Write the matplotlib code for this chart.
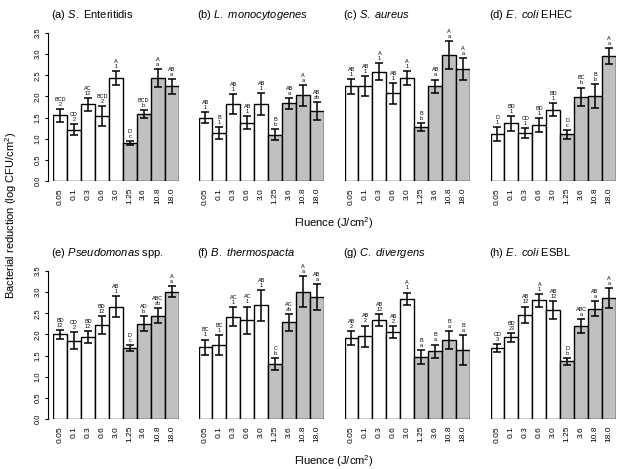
import matplotlib
matplotlib.use("Agg")
import matplotlib.pyplot as plt
import numpy as np

plt.rcParams['font.family'] = ['Liberation Sans', 'DejaVu Sans']
plt.rcParams['mathtext.fontset'] = 'custom'
plt.rcParams['mathtext.rm'] = 'Liberation Sans'
plt.rcParams['mathtext.it'] = 'Liberation Sans:italic'

fluence = ["0.05", "0.1", "0.3", "0.6", "3.0", "1.25", "3.6", "10.8", "18.0"]
n_white = 5

titles = [
    r"(a) $\mathit{S.}$ Enteritidis",
    r"(b) $\mathit{L.\ monocytogenes}$",
    r"(c) $\mathit{S.\ aureus}$",
    r"(d) $\mathit{E.\ coli}$ EHEC",
    r"(e) $\mathit{Pseudomonas}$ spp.",
    r"(f) $\mathit{B.\ thermospacta}$",
    r"(g) $\mathit{C.\ divergens}$",
    r"(h) $\mathit{E.\ coli}$ ESBL",
]

# mean log reduction and error per panel
mean_a = [1.55, 1.21, 1.81, 1.54, 2.44, 0.90, 1.58, 2.44, 2.24]
err_a = [0.16, 0.13, 0.15, 0.23, 0.17, 0.05, 0.10, 0.21, 0.18]
mean_b = [1.50, 1.13, 1.82, 1.38, 1.82, 1.09, 1.84, 2.03, 1.65]
err_b = [0.13, 0.14, 0.23, 0.15, 0.27, 0.13, 0.13, 0.25, 0.21]
mean_c = [2.24, 2.25, 2.58, 2.07, 2.43, 1.27, 2.24, 2.99, 2.65]
err_c = [0.18, 0.23, 0.20, 0.25, 0.16, 0.09, 0.16, 0.33, 0.25]
mean_d = [1.11, 1.36, 1.13, 1.32, 1.69, 1.10, 1.99, 2.01, 2.96]
err_d = [0.17, 0.18, 0.12, 0.17, 0.16, 0.10, 0.22, 0.29, 0.19]
mean_e = [2.00, 1.85, 1.94, 2.22, 2.66, 1.67, 2.25, 2.44, 3.01]
err_e = [0.11, 0.20, 0.15, 0.22, 0.24, 0.07, 0.18, 0.18, 0.13]
mean_f = [1.70, 1.75, 2.42, 2.34, 2.69, 1.31, 2.29, 3.01, 2.89]
err_f = [0.18, 0.24, 0.22, 0.32, 0.37, 0.14, 0.20, 0.37, 0.31]
mean_g = [1.92, 1.96, 2.34, 2.06, 2.84, 1.47, 1.60, 1.87, 1.63]
err_g = [0.16, 0.25, 0.15, 0.14, 0.15, 0.17, 0.16, 0.21, 0.35]
mean_h = [1.68, 1.93, 2.46, 2.81, 2.58, 1.36, 2.20, 2.61, 2.86]
err_h = [0.10, 0.11, 0.20, 0.15, 0.22, 0.09, 0.17, 0.17, 0.24]

let_a = ["BCD\n2", "CD\n2", "AC\n12", "BCD\n2", "A\n1", "D\nc", "BCD\nb", "A\na", "AB\na"]
let_b = ["AB\n1", "B\n1", "AB\n1", "AB\n1", "AB\n1", "B\nb", "AB\na", "A\na", "AB\nab"]
let_c = ["AB\n1", "AB\n1", "A\n1", "AB\n1", "A\n1", "B\nb", "AB\na", "A\na", "A\na"]
let_d = ["D\n1", "BD\n1", "CD\n1", "BD\n1", "BD\n1", "D\nc", "BC\nb", "B\nb", "A\na"]
let_e = ["BD\n12", "CD\n2", "BD\n12", "BD\n12", "AB\n1", "D\nc", "AD\nb", "ABC\nab", "A\na"]
let_f = ["BC\n1", "BC\n1", "AC\n1", "AC\n1", "AB\n1", "C\nb", "AC\nab", "A\na", "AB\na"]
let_g = ["AB\n2", "AB\n2", "AB\n12", "AB\n2", "A\n1", "B\na", "B\na", "B\na", "B\na"]
let_h = ["CD\n3", "BD\n23", "AB\n12", "A\n1", "AB\n12", "D\nb", "ABC\na", "AB\na", "A\na"]

means = [mean_a, mean_b, mean_c, mean_d, mean_e, mean_f, mean_g, mean_h]
errs = [err_a, err_b, err_c, err_d, err_e, err_f, err_g, err_h]
letters = [let_a, let_b, let_c, let_d, let_e, let_f, let_g, let_h]

W, H = 617, 469
fig = plt.figure(figsize=(W / 100, H / 100), dpi=100)

lefts = [53, 198.5, 344.5, 490.5]
width = 125.5
zero_y = [181, 419]
ax_h = 148

x = np.arange(9) + 0.5
colors = ["white"] * n_white + ["#c0c0c0"] * (9 - n_white)

for i in range(8):
    row, col = divmod(i, 4)
    ax = fig.add_axes([lefts[col] / W, 1 - zero_y[row] / H, width / W, ax_h / H])
    ax.bar(x, means[i], width=1.0, color=colors, edgecolor="black", linewidth=1.0)
    ax.errorbar(x, means[i], yerr=errs[i], fmt="none", ecolor="black",
                elinewidth=1.1, capsize=2.6, capthick=1.1)
    for xi, m, e, lab in zip(x, means[i], errs[i], letters[i]):
        ax.annotate(lab, (xi, m + e), xytext=(0, 1.5), textcoords="offset points",
                    ha="center", va="bottom", fontsize=4, linespacing=1.0,
                    annotation_clip=False)
    ax.set_xlim(0, 9)
    ax.set_ylim(0, 3.5)
    ax.set_xticks(x)
    ax.set_xticklabels(fluence, rotation=90, fontsize=6)
    ax.tick_params(axis="x", length=0, pad=5)
    for s in ["top", "right", "bottom"]:
        ax.spines[s].set_visible(False)
    if col == 0:
        ax.spines["left"].set_position(("outward", 3.6))
        ax.spines["left"].set_bounds(0, 3.5)
        ax.spines["left"].set_linewidth(0.8)
        ax.set_yticks(np.arange(0, 3.51, 0.5))
        ax.set_yticklabels([f"{v:.1f}" for v in np.arange(0, 3.51, 0.5)],
                           rotation=90, va="center", fontsize=5.5)
        ax.tick_params(axis="y", length=2.5, width=0.8, pad=2)
    else:
        ax.spines["left"].set_visible(False)
        ax.set_yticks([])
    ax.text(-0.015, 1.12, titles[i], transform=ax.transAxes, ha="left", va="center",
            fontsize=8)

fig.text(334 / W, 1 - 223 / H, r"Fluence (J/cm$^2$)", ha="center", va="center", fontsize=8)
fig.text(334 / W, 1 - 461 / H, r"Fluence (J/cm$^2$)", ha="center", va="center", fontsize=8)
fig.text(11 / W, 1 - 215 / H, r"Bacterial reduction (log CFU/cm$^2$)", rotation=90,
         ha="center", va="center", fontsize=8)

fig.savefig("out.png", dpi=100)
